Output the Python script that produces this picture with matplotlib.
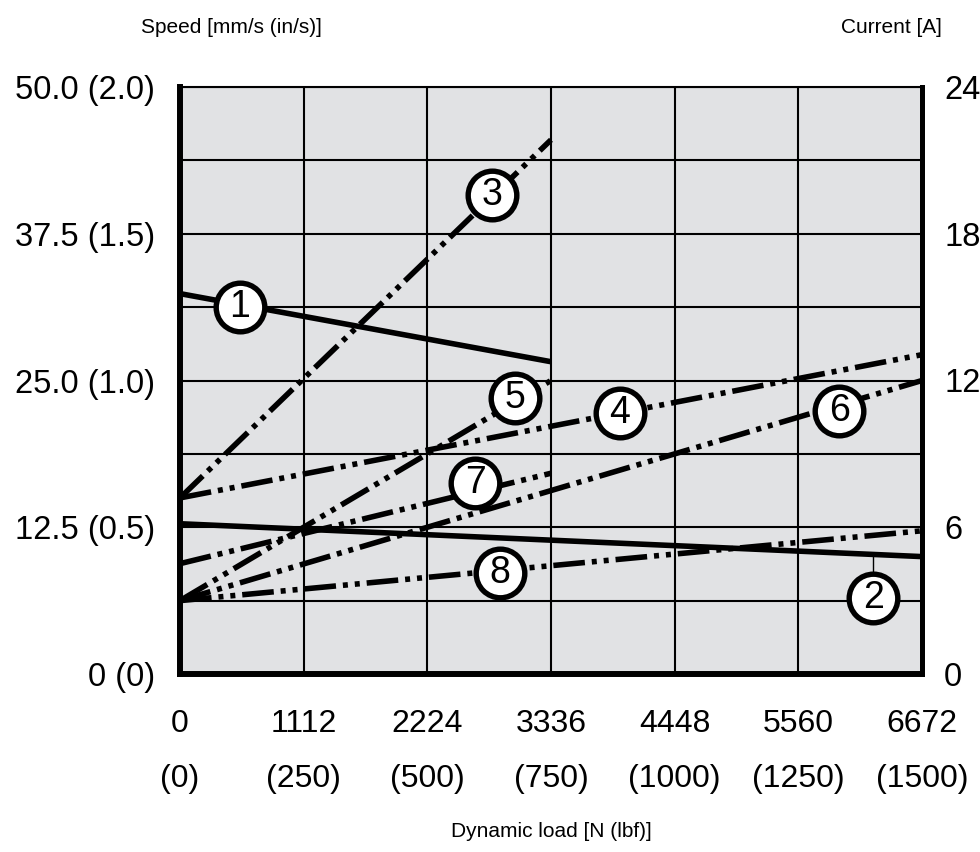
import matplotlib.pyplot as plt
import numpy as np

# x axis: dynamic load
load_n = [0, 1112, 2224, 3336, 4448, 5560, 6672]
load_n_labels = ['0', '1112', '2224', '3336', '4448', '5560', '6672']
load_lbf_labels = ['(0)', '(250)', '(500)', '(750)', '(1000)', '(1250)', '(1500)']

# left axis: speed mm/s (in/s)
speed_ticks = [0, 12.5, 25, 37.5, 50]
speed_labels = ['0 (0)', '12.5 (0.5)', '25.0 (1.0)', '37.5 (1.5)', '50.0 (2.0)']
speed_grid = [6.25, 18.75, 31.25, 43.75]

# right axis: current A
current_ticks = [0, 6, 12, 18, 24]

# curves (load N -> speed mm/s)
curve_ids = ['1', '2', '3', '4', '5', '6', '7', '8']
curve_load = [[0, 3336], [0, 6672], [0, 3336], [0, 6672],
              [0, 3336], [0, 6672], [0, 3336], [0, 6672]]
curve_speed = [[32.4, 26.6], [12.8, 10.0], [15.0, 45.5], [15.0, 27.2],
               [6.25, 25.0], [6.25, 25.0], [9.4, 17.1], [6.25, 12.2]]
curve_solid = [True, True, False, False, False, False, False, False]

# numbered markers
marker_load = [539, 6232, 2805, 3955, 3013, 5930, 2653, 2877]
marker_speed = [31.3, 6.5, 40.8, 22.2, 23.5, 22.4, 16.3, 8.6]

tick_font = 'Liberation Sans'
title_font = ['Liberation Sans Narrow', 'Liberation Sans']

fig = plt.figure(figsize=(9.8, 8.52), dpi=100)
ax = fig.add_axes([180 / 980, 1 - 674 / 852, 742 / 980, 587 / 852])
ax.set_facecolor('#e1e2e4')
ax.set_xlim(0, 6672)
ax.set_ylim(0, 50)

ax.set_xticks(load_n)
ax.set_yticks(speed_ticks)
ax.set_yticks(speed_grid, minor=True)
ax.set_yticklabels(speed_labels, fontsize=23.5, family=tick_font)
ax.tick_params(axis='both', which='both', length=0)
ax.tick_params(axis='y', pad=18)
ax.tick_params(axis='x', labelbottom=False)
ax.grid(True, which='both', color='black', lw=1.5)
ax.set_axisbelow(True)

ax.spines['left'].set_linewidth(4.3)
ax.spines['bottom'].set_linewidth(4.3)
ax.spines['right'].set_linewidth(3.6)
ax.spines['top'].set_linewidth(1.5)
for s in ax.spines.values():
    s.set_zorder(8)

ddot = (0, (5.7, 1.25, 0.9, 1.25, 0.9, 1.25))
for i in range(len(curve_ids)):
    ls = '-' if curve_solid[i] else ddot
    ax.plot(curve_load[i], curve_speed[i], color='black', lw=4.0,
            ls=ls, solid_capstyle='butt', dash_capstyle='butt', zorder=3)

# leader line for curve 2
ax.plot([marker_load[1], marker_load[1]],
        [np.interp(marker_load[1], curve_load[1], curve_speed[1]), marker_speed[1]],
        color='black', lw=1.0, zorder=3)

for i in range(len(curve_ids)):
    ax.plot(marker_load[i], marker_speed[i], 'o', ms=35, mfc='white',
            mec='black', mew=3.9, zorder=5, clip_on=False)
    ax.text(marker_load[i], marker_speed[i], curve_ids[i], fontsize=27,
            family=tick_font, ha='center', va='center', zorder=6)

# x tick labels, two rows
for x, a, b in zip(load_n, load_n_labels, load_lbf_labels):
    ax.text(x, -0.0988, a, transform=ax.get_xaxis_transform(), ha='center',
            va='baseline', fontsize=23, family=tick_font)
    ax.text(x, -0.1925, b, transform=ax.get_xaxis_transform(), ha='center',
            va='baseline', fontsize=23, family=tick_font)

ax2 = ax.twinx()
ax2.set_ylim(0, 24)
ax2.set_yticks(current_ticks)
ax2.set_yticklabels([str(c) for c in current_ticks], fontsize=23.5, family=tick_font)
ax2.tick_params(axis='y', length=0, pad=16)
for s in ax2.spines.values():
    s.set_visible(False)

fig.text(231 / 980, 1 - 33 / 852, 'Speed [mm/s (in/s)]', ha='center',
         va='baseline', fontsize=15, family=title_font)
fig.text(891 / 980, 1 - 33 / 852, 'Current [A]', ha='center',
         va='baseline', fontsize=15, family=title_font)
fig.text(551 / 980, 1 - 837 / 852, 'Dynamic load [N (lbf)]', ha='center',
         va='baseline', fontsize=15, family=title_font)

fig.savefig('out.png', dpi=100)
